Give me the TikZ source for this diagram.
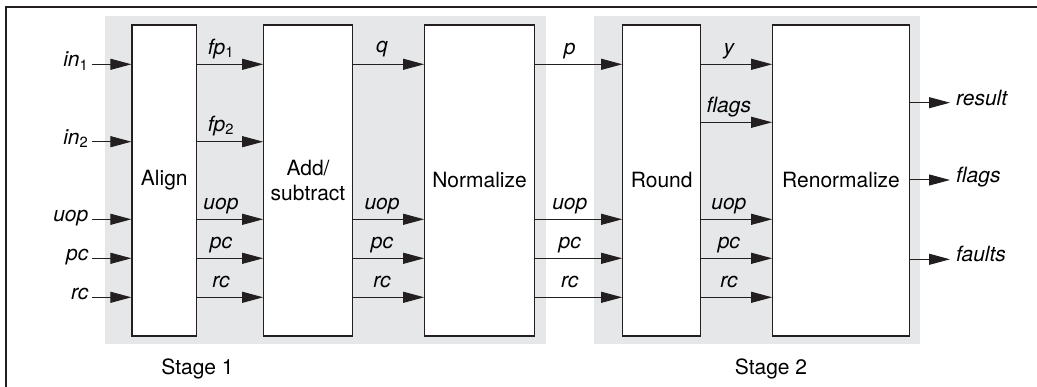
\documentclass[tikz,border=0pt]{standalone}
\usepackage{fontspec}
\setmainfont{TeX Gyre Heros}
\usetikzlibrary{arrows.meta}
\definecolor{stagebg}{RGB}{230,231,232}
\definecolor{ink}{RGB}{35,31,32}
\newcommand{\subs}[1]{\textsubscript{\upshape #1}}
\begin{document}
\begin{tikzpicture}[x=1pt,y=-1pt,
  font=\fontsize{21}{25}\selectfont,
  stagebox/.style={draw=ink, fill=white, line width=1.1pt, inner sep=0pt, minimum height=311pt, align=center},
  arr/.style={draw=ink, line width=1pt, -{Triangle[length=21pt,width=11pt]}},
  lbl/.style={font=\fontsize{21}{25}\selectfont\itshape, anchor=base, inner sep=0pt, yshift=10pt},
  inlbl/.style={font=\fontsize{21}{25}\selectfont\itshape, anchor=mid east, inner sep=0pt},
  outlbl/.style={font=\fontsize{21}{25}\selectfont\itshape, anchor=mid west, inner sep=0pt},
  stagelbl/.style={anchor=base, inner sep=0pt}]
\useasboundingbox (0,0) rectangle (1037,387);
% frame
\draw[ink, line width=1.3pt] (6,387) -- (6,7) -- (1037,7);
% stage backgrounds
\fill[stagebg] (105,16) rectangle (545.7,344);
\fill[stagebg] (594,16) rectangle (920,344);
% row coordinates
\coordinate (r1) at (0,64.3);
\coordinate (r2) at (0,141.7);
\coordinate (r3) at (0,219.3);
\coordinate (r4) at (0,258.3);
\coordinate (r5) at (0,297.3);
\coordinate (rf) at (0,122.3);
% boxes
\node[stagebox, minimum width=64.7pt] (align) at (164.3,180.5) {Align};
\node[stagebox, minimum width=88.6pt] (add) at (308,180.5) {Add/\\subtract};
\node[stagebox, minimum width=109.6pt] (norm) at (479.5,180.5) {Normalize};
\node[stagebox, minimum width=78pt] (round) at (661.7,180.5) {Round};
\node[stagebox, minimum width=136.6pt] (renorm) at (841,180.5) {Renormalize};
% inputs
\node[inlbl] (in1) at (88.5,64.3) {in\subs{1}};
\node[inlbl] (in2) at (88.5,141.7) {in\subs{2}};
\node[inlbl] (uop0) at (88.5,219.3) {uop};
\node[inlbl] (pc0) at (88.5,258.3) {pc};
\node[inlbl] (rc0) at (88.5,297.3) {rc};
\coordinate (s1) at (91.7,64.3);
\coordinate (s2) at (91.7,141.7);
\coordinate (s3) at (91.7,219.3);
\coordinate (s4) at (91.7,258.3);
\coordinate (s5) at (91.7,297.3);
\draw[arr] (s1) -- (align.west |- s1);
\draw[arr] (s2) -- (align.west |- s2);
\draw[arr] (s3) -- (align.west |- s3);
\draw[arr] (s4) -- (align.west |- s4);
\draw[arr] (s5) -- (align.west |- s5);
% align -> add
\draw[arr] (align.east |- r1) -- node[lbl,pos=0.36] {fp\subs{1}} (add.west |- r1);
\draw[arr] (align.east |- r2) -- node[lbl,pos=0.36] {fp\subs{2}} (add.west |- r2);
\draw[arr] (align.east |- r3) -- node[lbl,pos=0.36] {uop} (add.west |- r3);
\draw[arr] (align.east |- r4) -- node[lbl,pos=0.36] {pc} (add.west |- r4);
\draw[arr] (align.east |- r5) -- node[lbl,pos=0.36] {rc} (add.west |- r5);
% add -> norm
\draw[arr] (add.east |- r1) -- node[lbl,pos=0.41,yshift=2pt] {q} (norm.west |- r1);
\draw[arr] (add.east |- r3) -- node[lbl,pos=0.41] {uop} (norm.west |- r3);
\draw[arr] (add.east |- r4) -- node[lbl,pos=0.41] {pc} (norm.west |- r4);
\draw[arr] (add.east |- r5) -- node[lbl,pos=0.41] {rc} (norm.west |- r5);
% norm -> round
\draw[arr] (norm.east |- r1) -- node[lbl,pos=0.40] {p} (round.west |- r1);
\draw[arr] (norm.east |- r3) -- node[lbl,pos=0.40] {uop} (round.west |- r3);
\draw[arr] (norm.east |- r4) -- node[lbl,pos=0.40] {pc} (round.west |- r4);
\draw[arr] (norm.east |- r5) -- node[lbl,pos=0.40] {rc} (round.west |- r5);
% round -> renorm
\draw[arr] (round.east |- r1) -- node[lbl,pos=0.39] {y} (renorm.west |- r1);
\draw[arr] (round.east |- rf) -- node[lbl,pos=0.39] {flags} (renorm.west |- rf);
\draw[arr] (round.east |- r3) -- node[lbl,pos=0.39] {uop} (renorm.west |- r3);
\draw[arr] (round.east |- r4) -- node[lbl,pos=0.39] {pc} (renorm.west |- r4);
\draw[arr] (round.east |- r5) -- node[lbl,pos=0.39] {rc} (renorm.west |- r5);
% outputs
\coordinate (e1) at (950,102.7);
\coordinate (e2) at (950,180);
\coordinate (e3) at (950,259.3);
\node[outlbl] (res) at (956,102.7) {result};
\node[outlbl] (flg) at (956,180) {flags};
\node[outlbl] (flt) at (956,259.3) {faults};
\draw[arr] (renorm.east |- e1) -- (e1);
\draw[arr] (renorm.east |- e2) -- (e2);
\draw[arr] (renorm.east |- e3) -- (e3);
% stage labels
\node[stagelbl] (st1) at (197.5,375) {Stage 1};
\node[stagelbl] (st2) at (771,375) {Stage 2};
\end{tikzpicture}
\end{document}
